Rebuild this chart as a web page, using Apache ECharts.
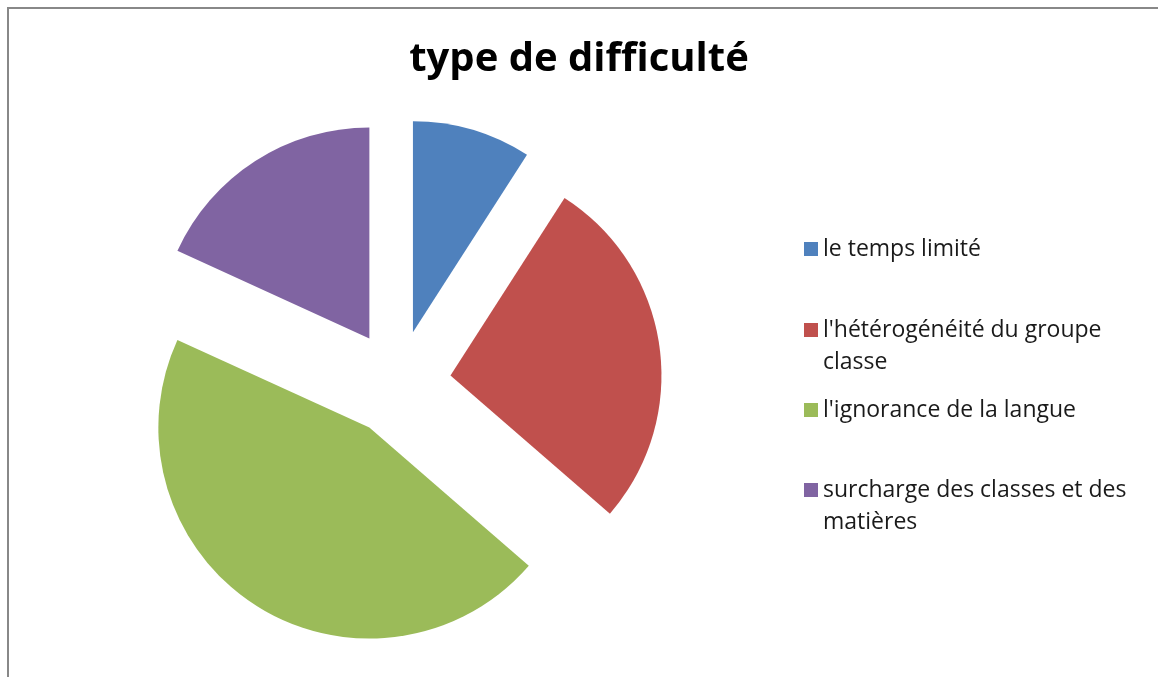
<!DOCTYPE html>
<html lang="fr">
<head>
    <meta charset="UTF-8">
    <title>type de difficulté</title>
    <script type="text/javascript" src="https://cdn.jsdelivr.net/npm/echarts@6/dist/echarts.min.js"></script>
    <style>
        html, body { margin: 0; padding: 0; background: #fff; }
        #pie { width: 1158px; height: 677px; }
    </style>
</head>
<body>
<div id="pie"></div>
<script type="text/javascript">
    var categories = ['le temps limité', "l'hétérogénéité du groupe classe", "l'ignorance de la langue", 'surcharge des classes et des matières'];
    var values = [5, 15, 25, 10];
    var colors = ['#4F81BD', '#C0504D', '#9BBB59', '#8064A2'];
    // legend text as wrapped in the picture
    var legendText = ['le temps limité', "l'hétérogénéité du groupe\nclasse", "l'ignorance de la langue", 'surcharge des classes et des\nmatières'];
    var legendTops = [233, 282, 394, 442];

    var font = '"Open Sans", Arial, sans-serif';

    var legends = categories.map(function (name, i) {
        var twoLines = legendText[i].indexOf('\n') >= 0;
        return {
            data: [name],
            left: 804,
            top: legendTops[i],
            padding: 0,
            orient: 'vertical',
            selectedMode: false,
            icon: 'rect',
            itemWidth: 14,
            itemHeight: 14,
            // empty first line so the marker sits on the first text line
            formatter: function () { return twoLines ? '\n' + legendText[i] : legendText[i]; },
            textStyle: {
                fontFamily: font,
                fontSize: 23,
                color: '#1a1a1a',
                lineHeight: 32
            }
        };
    });

    var data = categories.map(function (name, i) {
        return { name: name, value: values[i], selected: true, itemStyle: { color: colors[i] } };
    });

    var mychart = echarts.init(document.getElementById('pie'));
    var option = {
        animation: false,
        title: {
            text: 'type de difficulté',
            left: 'center',
            top: 35,
            textStyle: { fontFamily: font, fontSize: 40, fontWeight: 'bold', color: '#000' }
        },
        legend: legends,
        graphic: [{
            type: 'polyline',
            shape: { points: [[8, 1000], [8, 8], [2000, 8]] },
            style: { fill: 'none', stroke: '#888', lineWidth: 2 },
            silent: true
        }],
        series: [{
            type: 'pie',
            center: [398, 383],
            radius: 211,
            startAngle: 90,
            clockwise: true,
            selectedMode: 'multiple',
            selectedOffset: 53,
            label: { show: false },
            labelLine: { show: false },
            emphasis: { disabled: true },
            data: data
        }]
    };
    mychart.setOption(option);
</script>
</body>
</html>
